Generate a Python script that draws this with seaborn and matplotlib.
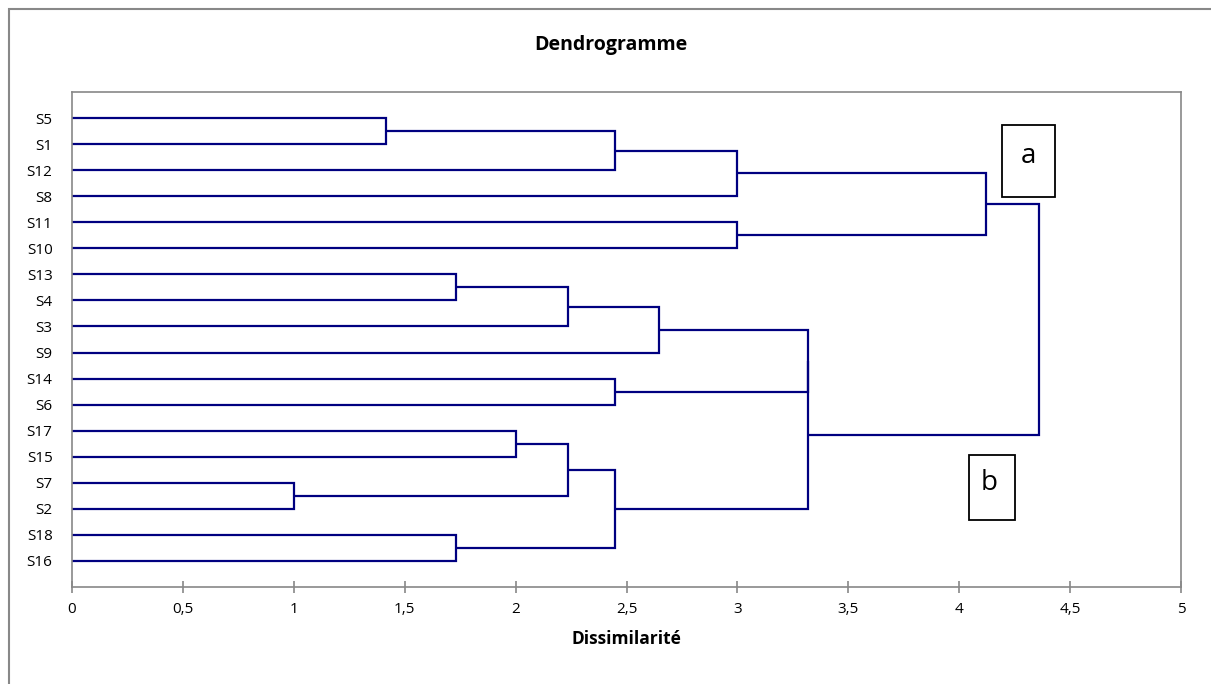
import matplotlib
matplotlib.use("Agg")
import matplotlib.pyplot as plt
import seaborn as sns
from matplotlib.patches import Rectangle

# ---- data ----
leaves = ["S5", "S1", "S12", "S8", "S11", "S10", "S13", "S4", "S3", "S9",
          "S14", "S6", "S17", "S15", "S7", "S2", "S18", "S16"]
# merges: left cluster, right cluster (clusters named by joining leaf names with "+"), height
merge_left = ["S5", "S13", "S7", "S18", "S17",
              "S5+S1", "S13+S4", "S14", "S17+S15", "S5+S1+S12",
              "S13+S4+S3", "S11", "S17+S15+S7+S2", "S5+S1+S12+S8",
              "S13+S4+S3+S9", "S13+S4+S3+S9+S14+S6", "S5+S1+S12+S8+S11+S10"]
merge_right = ["S1", "S4", "S2", "S16", "S15",
               "S12", "S3", "S6", "S7+S2", "S8",
               "S9", "S10", "S18+S16", "S11+S10",
               "S14+S6", "S17+S15+S7+S2+S18+S16",
               "S13+S4+S3+S9+S14+S6+S17+S15+S7+S2+S18+S16"]
merge_height = [1.414, 1.732, 1.0, 1.732, 2.0,
                2.449, 2.236, 2.449, 2.236, 3.0,
                2.646, 3.0, 2.449, 4.123,
                3.317, 3.317, 4.359]
x_ticks = [0, 0.5, 1, 1.5, 2, 2.5, 3, 3.5, 4, 4.5, 5]
x_tick_labels = ["0", "0,5", "1", "1,5", "2", "2,5", "3", "3,5", "4", "4,5", "5"]

sns.set_theme(style="white")
plt.rcParams["font.family"] = ["Open Sans", "DejaVu Sans"]
plt.rcParams["text.color"] = "black"
plt.rcParams["axes.labelcolor"] = "black"
plt.rcParams["xtick.color"] = "black"
plt.rcParams["ytick.color"] = "black"

W, H = 1211, 684
fig = plt.figure(figsize=(W / 100, H / 100), dpi=100)
ax = fig.add_axes([72 / W, 1 - 587 / H, (1181 - 72) / W, (587 - 92) / H])

line_color = "#000080"
pos = {name: (0.0, i) for i, name in enumerate(leaves)}

for l, r, h in zip(merge_left, merge_right, merge_height):
    xl, yl = pos[l]
    xr, yr = pos[r]
    ax.plot([xl, h, h, xr], [yl, yl, yr, yr], color=line_color, lw=1.6,
            solid_joinstyle="miter", solid_capstyle="butt")
    pos[l + "+" + r] = (h, (yl + yr) / 2)

ax.set_xlim(0, 5)
ax.set_ylim(len(leaves), -1)
ax.set_yticks(range(len(leaves)))
ax.set_yticklabels(leaves, fontsize=11)
ax.set_xticks(x_ticks)
ax.set_xticklabels(x_tick_labels, fontsize=11)
ax.tick_params(axis="x", bottom=True, direction="inout", length=9, width=1.2,
               color="#888888", labelcolor="black", pad=6)
ax.tick_params(axis="y", left=False, length=0, pad=14, labelcolor="black")
for s in ax.spines.values():
    s.set_color("#888888")
    s.set_linewidth(1.2)
ax.grid(False)

ax.set_xlabel("Dissimilarité", fontsize=12.5, fontweight="bold", labelpad=10)
fig.text(611 / W, 1 - 45 / H, "Dendrogramme", fontsize=14, fontweight="bold",
         ha="center", va="center")

# annotation boxes a and b (data coords)
ax.add_patch(Rectangle((4.195, 0.27), 4.431 - 4.195, 3.03 - 0.27, fill=False,
                       edgecolor="black", lw=1.3, clip_on=False))
ax.text(4.313, 1.45, "a", fontsize=20, ha="center", va="center")
ax.add_patch(Rectangle((4.042, 12.93), 4.251 - 4.042, 15.43 - 12.93, fill=False,
                       edgecolor="black", lw=1.3, clip_on=False))
ax.text(4.135, 14.0, "b", fontsize=20, ha="center", va="center")

# outer chart border (cropped at right and bottom)
fig.add_artist(Rectangle((9 / W, -0.05), 1.1, 1 - 9 / H + 0.05, transform=fig.transFigure,
                         fill=False, edgecolor="#888888", lw=1.5))

fig.savefig("out.png", dpi=100, facecolor="white")
